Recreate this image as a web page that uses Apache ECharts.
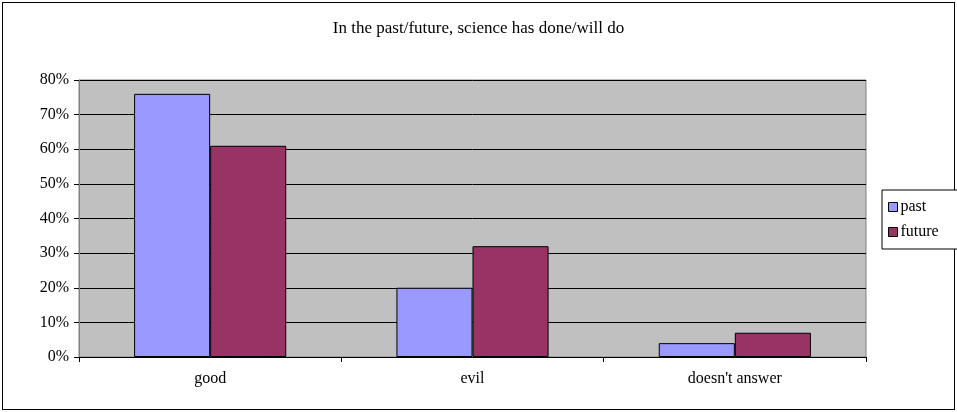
<!DOCTYPE html>
<html>
<head>
<meta charset="utf-8">
<script src="https://cdn.jsdelivr.net/npm/echarts@6/dist/echarts.min.js"></script>
<style>
  html, body { margin: 0; padding: 0; background: #fff; }
  #frame { position: absolute; left: 2px; top: 2px; width: 951px; height: 406px; border: 1px solid #000; box-sizing: content-box; }
  #chart { width: 957px; height: 412px; position: absolute; left: 0; top: 0; }
</style>
</head>
<body>
<div id="frame"></div>
<div id="chart"></div>
<script>
// Answers to the question, share of respondents
const categories = ['good', 'evil', "doesn't answer"];
const pastValues = [0.76, 0.20, 0.04];
const futureValues = [0.61, 0.32, 0.07];
const yTicks = [0, 0.1, 0.2, 0.3, 0.4, 0.5, 0.6, 0.7, 0.8];

const serif = '"Liberation Serif", "Times New Roman", serif';
const chart = echarts.init(document.getElementById('chart'), null, { renderer: 'canvas' });

chart.setOption({
  animation: false,
  backgroundColor: 'transparent',
  title: {
    text: 'In the past/future, science has done/will do',
    left: 'center',
    top: 15,
    textStyle: { fontFamily: serif, fontSize: 17, fontWeight: 'normal', color: '#000' }
  },
  legend: {
    orient: 'vertical',
    left: 882,
    top: 190,
    data: ['past', 'future'],
    itemWidth: 9,
    itemHeight: 9,
    itemGap: 9,
    padding: [9, 20, 9, 6],
    borderColor: '#000',
    borderWidth: 1,
    backgroundColor: '#fff',
    icon: 'rect',
    itemStyle: { borderColor: '#000', borderWidth: 1 },
    textStyle: { fontFamily: serif, fontSize: 16, color: '#000', padding: [0, 0, 0, -2] }
  },
  grid: { left: 79, right: 91, top: 80, bottom: 55, show: true, backgroundColor: '#C0C0C0', borderColor: '#808080', borderWidth: 1 },
  xAxis: {
    type: 'category',
    data: categories,
    axisLine: { lineStyle: { color: '#000', width: 1 } },
    axisTick: { show: true, alignWithLabel: false, length: 5, lineStyle: { color: '#000' } },
    axisLabel: { fontFamily: serif, fontSize: 16, color: '#000', margin: 14 }
  },
  yAxis: {
    type: 'value',
    min: 0,
    max: yTicks[yTicks.length - 1],
    interval: 0.1,
    axisLine: { show: true, lineStyle: { color: '#808080', width: 1 } },
    axisTick: { show: true, length: 5, lineStyle: { color: '#000' } },
    axisLabel: {
      fontFamily: serif, fontSize: 16, color: '#000', margin: 10,
      formatter: v => Math.round(v * 100) + '%'
    },
    splitLine: { lineStyle: { color: '#000', width: 1 } }
  },
  series: [
    {
      name: 'past',
      type: 'bar',
      data: pastValues,
      barGap: '0%',
      barCategoryGap: '42%',
      itemStyle: { color: '#9999FF', borderColor: '#000', borderWidth: 1 }
    },
    {
      name: 'future',
      type: 'bar',
      data: futureValues,
      barGap: '0%',
      barCategoryGap: '42%',
      itemStyle: { color: '#993366', borderColor: '#000', borderWidth: 1 }
    }
  ]
});
</script>
</body>
</html>
